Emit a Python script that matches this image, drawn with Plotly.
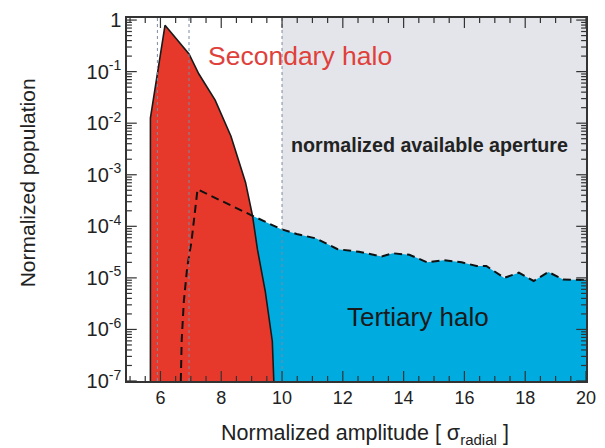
import numpy as np
import plotly.graph_objects as go

# ---- data ----
red_x = [5.67, 5.67, 6.15, 6.94, 7.26, 7.8, 8.32, 8.8, 9.03, 9.19, 9.45, 9.68, 9.73]
red_y = [1e-7, 1.26e-2, 0.79, 0.22, 0.091, 0.028, 5.6e-3, 7.1e-4, 1.6e-4, 3.6e-5, 5.4e-6, 5.9e-7, 1e-7]

dash_x = [6.67, 6.7, 6.77, 6.88, 7.02, 7.15, 7.22, 9.03, 9.95, 10.48, 11.13, 11.83, 12.53,
          13.28, 13.65, 14.19, 14.78, 15.32, 15.91, 16.4, 16.72, 17.31, 17.79, 18.28,
          18.76, 19.25, 20.0]
dash_y = [1e-7, 6.3e-7, 3.5e-6, 1.6e-5, 5.0e-5, 2.0e-4, 5.2e-4, 1.6e-4, 8.9e-5, 7.1e-5,
          5.8e-5, 3.6e-5, 3.2e-5, 2.6e-5, 3.0e-5, 2.8e-5, 2.0e-5, 2.2e-5, 2.0e-5, 1.7e-5,
          1.7e-5, 1.0e-5, 1.26e-5, 8.7e-6, 1.3e-5, 9.3e-6, 9.1e-6]
tertiary_start = 7  # index in dash arrays where the tertiary halo top begins

guide_x = [5.9, 6.94, 10.0]
aperture_x = [10.0, 20.0]

x_ticks = [6, 8, 10, 12, 14, 16, 18, 20]
x_minor = [v / 2 for v in range(10, 41) if (v / 2) not in x_ticks]
y_ticks = [1e-7, 1e-6, 1e-5, 1e-4, 1e-3, 1e-2, 1e-1, 1]
y_ticktext = ["10<sup>-7</sup>", "10<sup>-6</sup>", "10<sup>-5</sup>", "10<sup>-4</sup>",
              "10<sup>-3</sup>", "10<sup>-2</sup>", "10<sup>-1</sup>", "1"]
y_minor = [m * 10.0 ** e for e in range(-7, 0) for m in range(2, 10)]

X_RANGE = [4.9, 20.0]
Y_RANGE = [-7.0, 0.04]          # log10 units
MARGIN = dict(l=127, r=9, t=14, b=67)
W, H = 605, 448
PW = W - MARGIN["l"] - MARGIN["r"]
PH = H - MARGIN["t"] - MARGIN["b"]

FONT = "Liberation Sans, Arial, sans-serif"
RED = "#e7392b"
BLUE = "#00abdf"
GRAY = "#e3e5ea"
AXC = "#333333"

fig = go.Figure()

# tertiary halo (blue) area
bx = list(dash_x[tertiary_start:]) + [dash_x[-1], dash_x[tertiary_start]]
by = list(dash_y[tertiary_start:]) + [y_ticks[0], y_ticks[0]]
fig.add_trace(go.Scatter(x=bx, y=by, fill="toself", fillcolor=BLUE, mode="lines",
                         line=dict(width=0, color=BLUE), hoverinfo="skip", showlegend=False))

# secondary halo (red) area
fig.add_trace(go.Scatter(x=red_x, y=red_y, fill="toself", fillcolor=RED, mode="lines",
                         line=dict(width=1.6, color="#1a1a1a"), hoverinfo="skip",
                         showlegend=False))

# dashed curve
fig.add_trace(go.Scatter(x=dash_x, y=dash_y, mode="lines",
                         line=dict(width=2, color="#111111", dash="8px,5px"),
                         hoverinfo="skip", showlegend=False))

shapes = [dict(type="rect", xref="x", yref="paper", x0=aperture_x[0], x1=aperture_x[1],
               y0=0, y1=1, fillcolor=GRAY, line=dict(width=0), layer="below")]
for gx in guide_x:
    shapes.append(dict(type="line", xref="x", yref="paper", x0=gx, x1=gx, y0=0, y1=1,
                       line=dict(color="#7c8ba3", width=1, dash="3px,3px"), layer="above"))


# inward tick marks on all four sides (axis decoration)
def xtick(v, length):
    for anchor, sign in ((0, 1), (1, -1)):
        shapes.append(dict(type="line", xref="x", yref="paper", x0=v, x1=v,
                           ysizemode="pixel", yanchor=anchor, y0=0, y1=sign * length,
                           line=dict(color=AXC, width=1.2), layer="above"))


def ytick(v, length):
    yp = (float(np.log10(v)) - Y_RANGE[0]) / (Y_RANGE[1] - Y_RANGE[0])
    lp = length / PW
    for x0, x1 in ((0, lp), (1, 1 - lp)):
        shapes.append(dict(type="line", xref="paper", yref="paper", x0=x0, x1=x1,
                           y0=yp, y1=yp, line=dict(color=AXC, width=1.2), layer="above"))


for v in x_ticks:
    xtick(v, 10)
for v in x_minor:
    xtick(v, 5)
for v in y_ticks:
    ytick(v, 10)
for v in y_minor:
    ytick(v, 5)

annotations = [
    dict(text="Secondary halo", x=7.51, y=-0.69, xref="x", yref="y", xanchor="left",
         yanchor="middle", showarrow=False, font=dict(family=FONT, size=26.5, color="#e0403a")),
    dict(text="<b>normalized available aperture</b>", x=10.24, y=-2.42, xref="x", yref="y",
         xanchor="left", yanchor="middle", showarrow=False,
         font=dict(family=FONT, size=19.7, color="#222222")),
    dict(text="Tertiary halo", x=12.08, y=-5.75, xref="x", yref="y", xanchor="left",
         yanchor="middle", showarrow=False, font=dict(family=FONT, size=26, color="#1a1a1a")),
    dict(text="Normalized population", x=(25 - MARGIN["l"]) / PW,
         y=(H - MARGIN["b"] - 181) / PH,
         xref="paper", yref="paper", xanchor="center", yanchor="middle", textangle=-90,
         showarrow=False, font=dict(family=FONT, size=21, color="#222222")),
    dict(text="Normalized amplitude [ σ<sub>radial</sub> ]", x=(370 - MARGIN["l"]) / PW,
         y=(H - MARGIN["b"] - 435) / PH, xref="paper", yref="paper", xanchor="center",
         yanchor="middle", showarrow=False, font=dict(family=FONT, size=21.5, color="#222222")),
]

fig.update_layout(
    width=W, height=H,
    margin=MARGIN,
    paper_bgcolor="white", plot_bgcolor="white",
    font=dict(family=FONT, color="#222222"),
    shapes=shapes, annotations=annotations,
    showlegend=False,
)

fig.update_xaxes(
    range=X_RANGE, tickmode="array", tickvals=x_ticks, ticks="",
    showline=True, linecolor=AXC, linewidth=1.5, mirror=True,
    showgrid=False, zeroline=False, tickfont=dict(size=18, color="#222222"),
)
fig.update_yaxes(
    type="log", range=Y_RANGE, tickmode="array", tickvals=y_ticks, ticktext=y_ticktext,
    ticks="", showline=True, linecolor=AXC, linewidth=1.5, mirror=True,
    showgrid=False, zeroline=False, tickfont=dict(size=20, color="#222222"),
)

fig.write_html("out.html")
